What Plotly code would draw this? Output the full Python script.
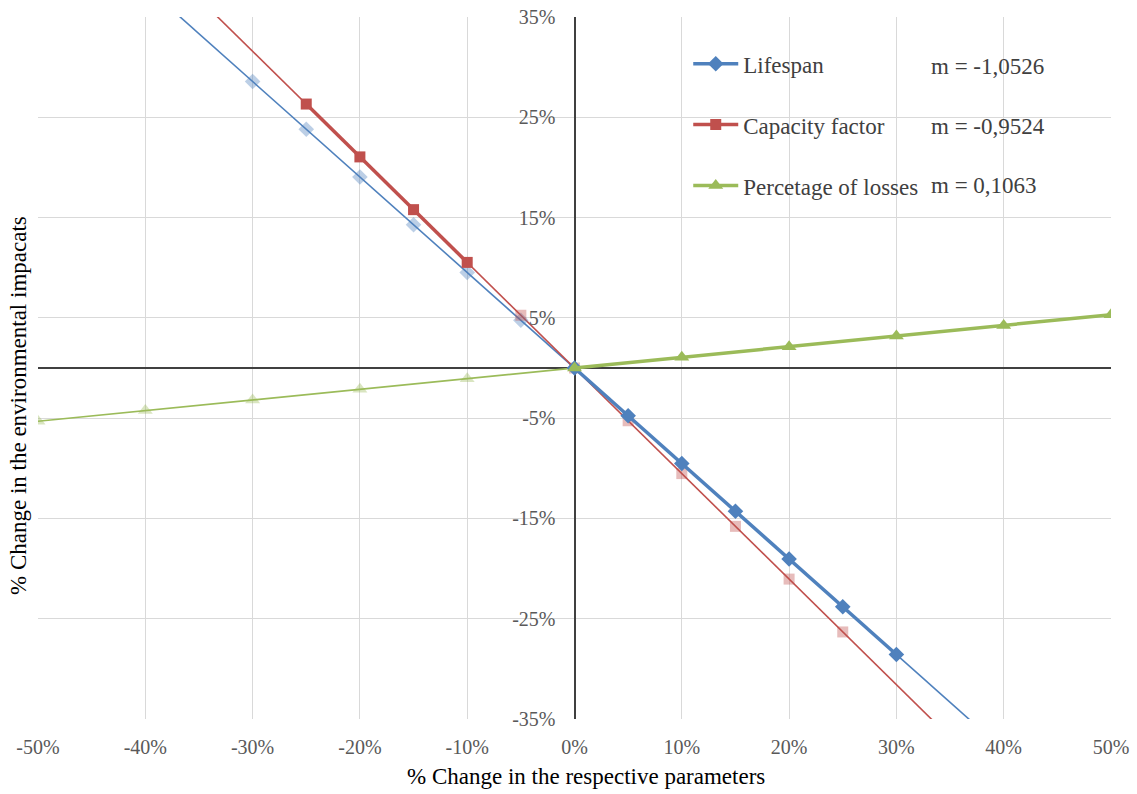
import plotly.graph_objects as go

# ---------------- data ----------------
x_life = [-30, -25, -20, -15, -10, -5, 0, 5, 10, 15, 20, 25, 30]
y_life = [28.57, 23.81, 19.05, 14.29, 9.52, 4.76, 0, -4.76, -9.52, -14.29, -19.05, -23.81, -28.57]

x_cap = [-25, -20, -15, -10, -5, 0, 5, 10, 15, 20, 25]
y_cap = [26.32, 21.05, 15.79, 10.53, 5.26, 0, -5.26, -10.53, -15.79, -21.05, -26.32]

x_loss = [-50, -40, -30, -20, -10, 0, 10, 20, 30, 40, 50]
y_loss = [-5.32, -4.25, -3.19, -2.13, -1.06, 0, 1.06, 2.13, 3.19, 4.25, 5.32]

slope_life = -0.9524   # fitted line drawn through Lifespan points
slope_cap = -1.0526    # fitted line drawn through Capacity factor points
slope_loss = 0.1063
m_labels = ["m = -1,0526", "m = -0,9524", "m = 0,1063"]
series_names = ["Lifespan", "Capacity factor", "Percetage of losses"]

x_ticks = [-50, -40, -30, -20, -10, 0, 10, 20, 30, 40, 50]
y_ticks = [-35, -25, -15, -5, 5, 15, 25, 35]

# ---------------- style ----------------
BLUE, RED, GREEN = "#4F81BD", "#C0504D", "#9BBB59"
BLUE_F, RED_F, GREEN_F = "rgba(79,129,189,0.38)", "rgba(192,80,77,0.38)", "rgba(155,187,89,0.38)"
FONT = "Liberation Serif, Times New Roman, serif"
TXT = 23
TICK = 20

fig = go.Figure()

trend_x = [-50, 50]
for slope, col in [(slope_life, BLUE), (slope_cap, RED), (slope_loss, GREEN)]:
    fig.add_trace(go.Scatter(x=trend_x, y=[slope * v for v in trend_x], mode="lines",
                             line=dict(color=col, width=1.6), showlegend=False, hoverinfo="skip"))


def pick(xs, ys, cond):
    px = [a for a, b in zip(xs, ys) if cond(a)]
    py = [b for a, b in zip(xs, ys) if cond(a)]
    return px, py


# faded (mirrored) markers
fx, fy = pick(x_life, y_life, lambda v: v < 0)
fig.add_trace(go.Scatter(x=fx, y=fy, mode="markers", marker=dict(symbol="diamond", size=12, color=BLUE_F),
                         showlegend=False))
fx, fy = pick(x_cap, y_cap, lambda v: v >= 0 or v == -5)
fig.add_trace(go.Scatter(x=fx, y=fy, mode="markers", marker=dict(symbol="square", size=11, color=RED_F),
                         showlegend=False))
fx, fy = pick(x_loss, y_loss, lambda v: v < 0)
fig.add_trace(go.Scatter(x=fx, y=fy, mode="markers", marker=dict(symbol="triangle-up", size=13, color=GREEN_F),
                         showlegend=False))

# main series
dx, dy = pick(x_life, y_life, lambda v: v >= 0)
fig.add_trace(go.Scatter(x=dx, y=dy, mode="lines+markers", name=series_names[0], legendgroup="a",
                         line=dict(color=BLUE, width=3.5),
                         marker=dict(symbol="diamond", size=12, color=BLUE)))
dx, dy = pick(x_cap, y_cap, lambda v: -25 <= v <= -10)
fig.add_trace(go.Scatter(x=dx, y=dy, mode="lines+markers", name=series_names[1], legendgroup="b",
                         line=dict(color=RED, width=3.5),
                         marker=dict(symbol="square", size=11, color=RED)))
dx, dy = pick(x_loss, y_loss, lambda v: v >= 0)
fig.add_trace(go.Scatter(x=dx, y=dy, mode="lines+markers", name=series_names[2], legendgroup="c",
                         line=dict(color=GREEN, width=3.5),
                         marker=dict(symbol="triangle-up", size=13, color=GREEN)))

annotations = []
for lbl, ypix in zip(m_labels, [66, 126, 185]):
    annotations.append(dict(text=lbl, x=(929 - 38) / 1073, y=1 - (ypix - 17) / 702, xref="paper", yref="paper",
                            xanchor="left", yanchor="middle", showarrow=False,
                            font=dict(family=FONT, size=TXT, color="#404040")))
annotations.append(dict(text="% Change in the respective parameters", x=(586 - 38) / 1073, y=-(776 - 719) / 702,
                        xref="paper", yref="paper", showarrow=False, xanchor="center", yanchor="middle",
                        font=dict(family=FONT, size=TXT, color="black")))
annotations.append(dict(text="% Change in the environmental impacats", x=-(38 - 18) / 1073, y=1 - (406 - 17) / 702,
                        xref="paper", yref="paper", showarrow=False, textangle=-90, xanchor="center",
                        yanchor="middle", font=dict(family=FONT, size=TXT, color="black")))

fig.update_layout(
    width=1137, height=794,
    margin=dict(l=38, r=26, t=17, b=75),
    plot_bgcolor="white", paper_bgcolor="white",
    font=dict(family=FONT, size=TICK, color="#595959"),
    xaxis=dict(range=[-50, 50], tickvals=x_ticks, ticktext=[f"{v}%" for v in x_ticks],
               showgrid=True, gridcolor="#D9D9D9", gridwidth=1,
               zeroline=True, zerolinecolor="#404040", zerolinewidth=1.5,
               showline=False, ticks="", ticklabelstandoff=14, automargin=False,
               tickfont=dict(family=FONT, size=TICK, color="#595959")),
    yaxis=dict(range=[-35, 35], tickvals=y_ticks, ticktext=[f"{v}%" for v in y_ticks],
               showgrid=True, gridcolor="#D9D9D9", gridwidth=1,
               zeroline=True, zerolinecolor="#404040", zerolinewidth=1.5,
               anchor="free", position=0.5, showline=False, ticks="", automargin=False,
               ticklabelstandoff=19,
               tickfont=dict(family=FONT, size=TICK, color="#595959")),
    legend=dict(x=0.606, y=0.964, xanchor="left", yanchor="top", tracegroupgap=28, itemwidth=45,
                font=dict(family=FONT, size=TXT, color="#404040"), bgcolor="rgba(0,0,0,0)"),
    showlegend=True,
    annotations=annotations,
)

fig.write_html("out.html")
